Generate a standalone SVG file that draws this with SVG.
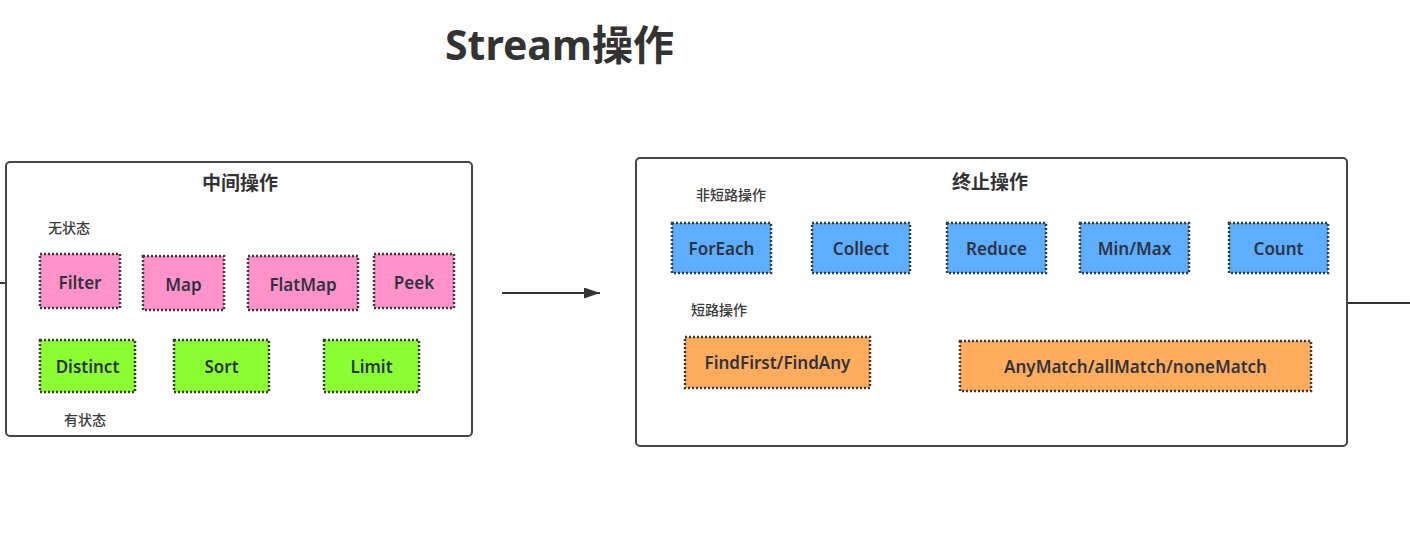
<svg xmlns="http://www.w3.org/2000/svg" width="1410" height="536" viewBox="0 0 1410 536">
<style>
text{font-family:"Noto Sans","Noto Sans CJK SC",sans-serif;fill:#333;}
.title{font-size:41px;font-weight:700;}
.h{font-size:19px;font-weight:700;text-anchor:middle;}
.lab{font-size:14px;font-weight:500;fill:#3a3a3a;}
.n{font-size:17px;font-weight:600;text-anchor:middle;dominant-baseline:central;fill:#2f3340;}
.frame{fill:#fff;stroke:#444;stroke-width:2;}
.box{stroke:#3a3a3a;stroke-width:2.5;stroke-dasharray:2 2;}
.pink{fill:#ff93c9;}
.green{fill:#8cff33;}
.blue{fill:#5daeff;}
.orange{fill:#ffad5c;}
.conn{stroke:#333;stroke-width:2;fill:none;}
</style>
<defs>
<marker id="arrB" viewBox="0 0 10 10" refX="10" refY="5" markerWidth="16" markerHeight="11" markerUnits="userSpaceOnUse" orient="auto" preserveAspectRatio="none">
<path d="M0,0 L10,5 L0,10 z" fill="#333"/>
</marker>
</defs>
<rect width="1410" height="536" fill="#fff"/>
<text class="title" x="445" y="60">Stream操作</text>

<g id="connectors">
<line class="conn" x1="0" y1="283" x2="6" y2="283"/>
<line class="conn" x1="502" y1="293" x2="600" y2="293" marker-end="url(#arrB)"/>
<line class="conn" x1="1347" y1="303" x2="1410" y2="303"/>
</g>

<g id="intermediate">
<rect class="frame" x="6" y="162" width="466" height="274" rx="4"/>
<text class="h" x="240" y="190">中间操作</text>
<text class="lab" x="48" y="233">无状态</text>
<text class="lab" x="64" y="425">有状态</text>
</g>
<g id="filter"><rect class="box pink" x="40" y="254" width="80" height="54"/><text class="n" x="80" y="282">Filter</text></g>
<g id="map"><rect class="box pink" x="143" y="256" width="81" height="54"/><text class="n" x="183.5" y="284">Map</text></g>
<g id="flatmap"><rect class="box pink" x="248" y="256" width="110" height="54"/><text class="n" x="303" y="284">FlatMap</text></g>
<g id="peek"><rect class="box pink" x="374" y="254" width="80" height="54"/><text class="n" x="414" y="282">Peek</text></g>
<g id="distinct"><rect class="box green" x="40" y="340" width="95" height="52"/><text class="n" x="87.5" y="366">Distinct</text></g>
<g id="sort"><rect class="box green" x="174" y="340" width="95" height="52"/><text class="n" x="221.5" y="366">Sort</text></g>
<g id="limit"><rect class="box green" x="324" y="340" width="95" height="52"/><text class="n" x="371.5" y="366">Limit</text></g>

<g id="terminal">
<rect class="frame" x="636" y="158" width="711" height="288" rx="4"/>
<text class="h" x="990" y="189">终止操作</text>
<text class="lab" x="696" y="200">非短路操作</text>
<text class="lab" x="691" y="315">短路操作</text>
</g>
<g id="foreach"><rect class="box blue" x="672" y="223" width="99" height="50"/><text class="n" x="721.5" y="248">ForEach</text></g>
<g id="collect"><rect class="box blue" x="812" y="223" width="98" height="50"/><text class="n" x="861" y="248">Collect</text></g>
<g id="reduce"><rect class="box blue" x="947" y="223" width="99" height="50"/><text class="n" x="996.5" y="248">Reduce</text></g>
<g id="minmax"><rect class="box blue" x="1080" y="223" width="109" height="50"/><text class="n" x="1134.5" y="248">Min/Max</text></g>
<g id="count"><rect class="box blue" x="1229" y="223" width="99" height="50"/><text class="n" x="1278.5" y="248">Count</text></g>
<g id="findfirst"><rect class="box orange" x="685" y="337" width="185" height="51"/><text class="n" x="777.5" y="362">FindFirst/FindAny</text></g>
<g id="anymatch"><rect class="box orange" x="960" y="341" width="351" height="50"/><text class="n" x="1135.5" y="366">AnyMatch/allMatch/noneMatch</text></g>
</svg>
